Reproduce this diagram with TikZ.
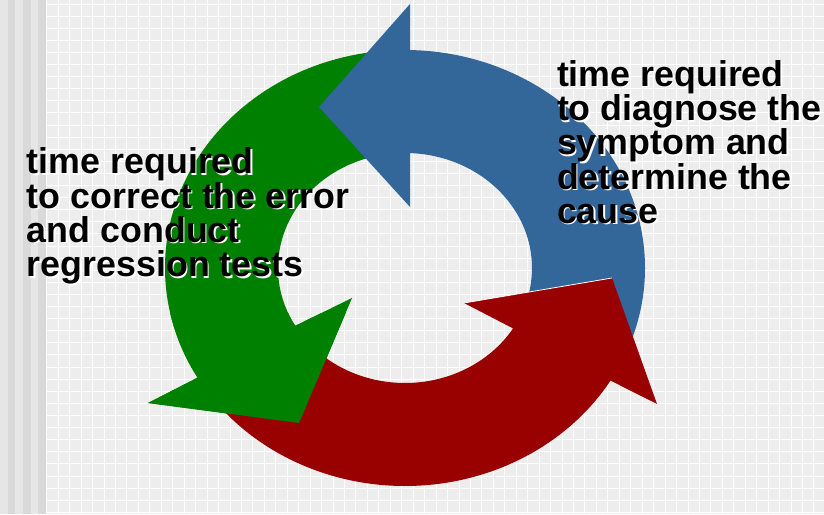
\documentclass[tikz,border=0pt]{standalone}
\usepackage{fontspec}
\setmainfont{Liberation Sans}
\usetikzlibrary{calc}
\definecolor{cblue}{RGB}{51,102,153}
\definecolor{cgreen}{RGB}{0,128,0}
\definecolor{cred}{RGB}{153,0,0}
\definecolor{bgbase}{RGB}{237,237,237}
\definecolor{stripeA}{RGB}{230,230,230}
\definecolor{stripeB}{RGB}{217,217,217}
\begin{document}
\begin{tikzpicture}[x=1pt,y=1pt,
  txt/.style={font=\bfseries\fontsize{35.8}{34.2}\selectfont, align=left, anchor=north west, inner sep=0pt, outer sep=0pt},
  shadowtxt/.style={txt, text=white},
  gridline/.style={white, line width=0.8pt}]
\useasboundingbox (0,0) rectangle (824,514);
% background
\fill[bgbase] (0,0) rectangle (824,514);
\foreach \a/\b in {0/7.5, 15.3/23, 30.7/38.3} \fill[stripeA] (\a,0) rectangle (\b,514);
\foreach \a/\b in {7.5/15.3, 23/30.7, 38.3/46} \fill[stripeB] (\a,0) rectangle (\b,514);
\foreach \i in {0,...,67} \draw[gridline] ({46.7+11.45*\i},0) -- ++(0,514);
\foreach \j in {0,...,42} \draw[gridline] (46,{510-12.1*\j}) -- (824,{510-12.1*\j});
% geometry
\coordinate (C) at (405,246);
\coordinate (Bo) at (410,510); \coordinate (Bt) at (319,407); \coordinate (Bi) at (410,307);
\coordinate (Go) at (148,111); \coordinate (Gt) at (299,91);  \coordinate (Gi) at (352,216);
\coordinate (Ro) at (657,110); \coordinate (Rt) at (612,236); \coordinate (Ri) at (464,211);
\def\greenpath{($(C)+(95:240 and 218)$) arc[start angle=95,end angle=210.2,x radius=240,y radius=218] -- (Go) -- (Gt) -- (Gi) -- ($(C)+(210.2:127 and 115)$) arc[start angle=210.2,end angle=95,x radius=127,y radius=115] -- cycle}
% green arrow
\fill[cgreen] \greenpath;
% blue arrow
\fill[cblue] ($(C)+(-20:240 and 218)$) arc[start angle=-20,end angle=88.8,x radius=240,y radius=218] -- (Bo) -- (Bt) -- (Bi) -- ($(C)+(87.74:127 and 115)$) arc[start angle=87.74,end angle=-20,x radius=127,y radius=115] -- cycle;
% red arrow
\fill[cred] ($(C)+(220:240 and 218)$) arc[start angle=220,end angle=328.9,x radius=240,y radius=218] -- (Ro) -- (Rt) -- (Ri) -- ($(C)+(328.3:127 and 115)$) arc[start angle=328.3,end angle=220,x radius=127,y radius=115] -- cycle;
\draw[white, line width=0.8pt] (Ri) -- (Rt);
% green head over red tail
\begin{scope}
\clip (140,60) rectangle (360,200);
\fill[cgreen] \greenpath;
\end{scope}
% texts
\node[shadowtxt] (rs) at (558.5,452) {time required\\to diagnose the\\symptom and\\determine the\\cause};
\node[txt] (rt) at (557,453.5) {time required\\to diagnose the\\symptom and\\determine the\\cause};
\node[shadowtxt] (ls) at (28.5,364.5) {time required\\to correct the error\\and conduct\\regression tests};
\node[txt] (lt) at (27,366) {time required\\to correct the error\\and conduct\\regression tests};
\end{tikzpicture}
\end{document}
